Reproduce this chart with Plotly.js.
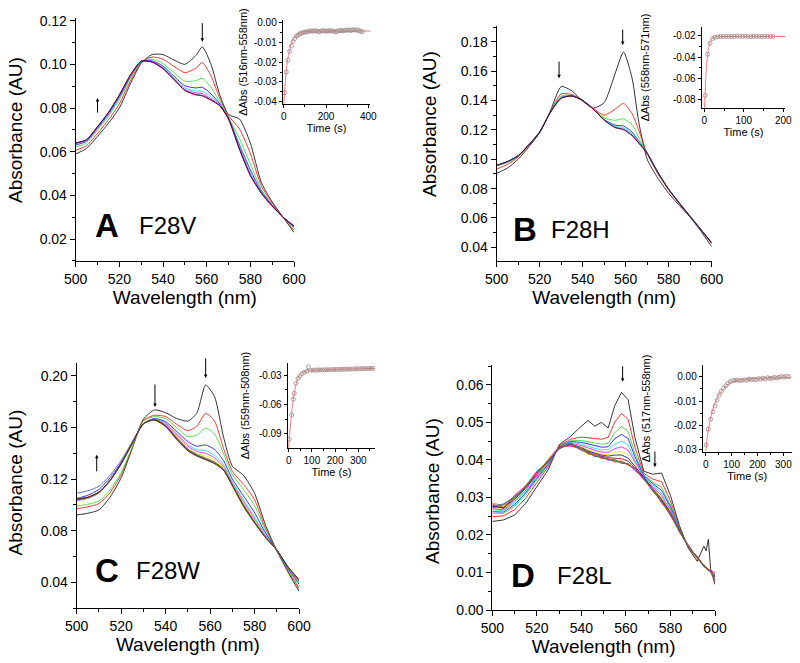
<!DOCTYPE html>
<html><head><meta charset="utf-8">
<script src="https://cdn.plot.ly/plotly-3.0.1.min.js"></script>
<style>html,body{margin:0;padding:0;background:#fff}#chart{width:800px;height:663px}</style>
</head><body><div id="chart"></div>
<script>
// ---------- Panel A (F28V) ----------
const wlA = [500,505,510,515,520,525,530,535,540,545,550,555,558,562,566,570,575,580,585,590,595,600];
const A_black   = [0.0590,0.0615,0.0670,0.0730,0.0800,0.0910,0.1005,0.1045,0.1045,0.1020,0.1000,0.1040,0.1080,0.1000,0.0860,0.0770,0.0750,0.0640,0.0460,0.0370,0.0300,0.0230];
const A_red     = [0.0606,0.0628,0.0684,0.0746,0.0819,0.0923,0.1008,0.1034,0.1024,0.0991,0.0962,0.0982,0.1008,0.0947,0.0844,0.0764,0.0705,0.0592,0.0444,0.0364,0.0300,0.0240];
const A_green   = [0.0622,0.0641,0.0699,0.0762,0.0838,0.0936,0.1011,0.1023,0.1003,0.0962,0.0923,0.0925,0.0936,0.0894,0.0828,0.0757,0.0660,0.0544,0.0428,0.0357,0.0300,0.0249];
const A_blue    = [0.0631,0.0648,0.0707,0.0771,0.0849,0.0943,0.1013,0.1016,0.0992,0.0946,0.0902,0.0892,0.0895,0.0865,0.0819,0.0754,0.0632,0.0517,0.0419,0.0354,0.0300,0.0255];
const A_cyan    = [0.0635,0.0651,0.0711,0.0775,0.0854,0.0946,0.1014,0.1013,0.0986,0.0939,0.0892,0.0878,0.0877,0.0852,0.0815,0.0752,0.0624,0.0505,0.0415,0.0353,0.0300,0.0257];
const A_magenta = [0.0638,0.0653,0.0713,0.0778,0.0857,0.0948,0.1015,0.1012,0.0983,0.0935,0.0886,0.0869,0.0866,0.0843,0.0812,0.0751,0.0617,0.0497,0.0413,0.0352,0.0300,0.0259];
const A_navy    = [0.0640,0.0655,0.0714,0.0779,0.0859,0.0950,0.1015,0.1011,0.0981,0.0931,0.0881,0.0862,0.0858,0.0838,0.0811,0.0750,0.0613,0.0492,0.0411,0.0351,0.0300,0.0260];
const A_wine    = [0.0640,0.0655,0.0715,0.0780,0.0860,0.0950,0.1015,0.1010,0.0980,0.0930,0.0880,0.0860,0.0855,0.0835,0.0810,0.0750,0.0610,0.0490,0.0410,0.0350,0.0300,0.0260];

// ---------- Panel B (F28H) ----------
const wlB = [500,505,510,515,520,525,530,535,540,545,550,555,559,563,566,570,575,580,585,590,595,600];
const B_black = [0.0904,0.0940,0.1000,0.1085,0.1180,0.1330,0.1495,0.1465,0.1395,0.1348,0.1385,0.1580,0.1730,0.1550,0.1260,0.1000,0.0870,0.0768,0.0685,0.0605,0.0510,0.0405];
const B_red   = [0.0933,0.0965,0.1015,0.1095,0.1183,0.1325,0.1445,0.1440,0.1400,0.1345,0.1300,0.1340,0.1380,0.1310,0.1200,0.1040,0.0900,0.0790,0.0697,0.0608,0.0518,0.0425];
const B_green = [0.0954,0.0978,0.1020,0.1098,0.1184,0.1322,0.1430,0.1435,0.1400,0.1342,0.1280,0.1265,0.1275,0.1235,0.1150,0.1040,0.0905,0.0793,0.0699,0.0609,0.0519,0.0428];
const B_blue  = [0.0957,0.0982,0.1023,0.1099,0.1185,0.1321,0.1420,0.1432,0.1400,0.1341,0.1270,0.1232,0.1226,0.1185,0.1125,0.1040,0.0908,0.0796,0.0702,0.0612,0.0522,0.0432];
const B_cyan  = [0.0958,0.0983,0.1024,0.1099,0.1185,0.1321,0.1418,0.1431,0.1400,0.1341,0.1268,0.1225,0.1213,0.1173,0.1118,0.1040,0.0909,0.0796,0.0701,0.0611,0.0521,0.0431];
const B_navy  = [0.0959,0.0984,0.1024,0.1100,0.1185,0.1320,0.1416,0.1430,0.1400,0.1340,0.1266,0.1218,0.1204,0.1164,0.1112,0.1040,0.0910,0.0795,0.0700,0.0610,0.0520,0.0430];
const B_wine  = [0.0960,0.0985,0.1025,0.1100,0.1185,0.1320,0.1415,0.1430,0.1400,0.1340,0.1265,0.1215,0.1200,0.1160,0.1110,0.1040,0.0910,0.0795,0.0700,0.0610,0.0520,0.0430];

// ---------- Panel C (F28W) ----------
const wlC = [500,505,510,515,520,525,530,535,540,545,550,554,558,562,566,570,575,580,585,590,595,600];
const C_black   = [0.0922,0.0935,0.0961,0.1060,0.1210,0.1440,0.1665,0.1737,0.1715,0.1670,0.1650,0.1710,0.1930,0.1840,0.1530,0.1300,0.1230,0.1090,0.0840,0.0645,0.0480,0.0330];
const C_red     = [0.0970,0.0985,0.1010,0.1095,0.1235,0.1445,0.1655,0.1695,0.1685,0.1625,0.1575,0.1610,0.1710,0.1650,0.1440,0.1260,0.1160,0.1040,0.0815,0.0645,0.0490,0.0350];
const C_green   = [0.0990,0.1005,0.1030,0.1115,0.1250,0.1450,0.1650,0.1685,0.1670,0.1600,0.1530,0.1540,0.1595,0.1550,0.1400,0.1235,0.1120,0.0995,0.0800,0.0645,0.0495,0.0365];
const C_blue    = [0.1050,0.1075,0.1120,0.1210,0.1330,0.1480,0.1630,0.1670,0.1645,0.1570,0.1490,0.1455,0.1465,0.1430,0.1345,0.1200,0.1070,0.0940,0.0780,0.0648,0.0505,0.0385];
const C_cyan    = [0.1030,0.1050,0.1090,0.1185,0.1315,0.1475,0.1630,0.1668,0.1635,0.1555,0.1465,0.1430,0.1420,0.1385,0.1315,0.1180,0.1040,0.0905,0.0765,0.0648,0.0510,0.0395];
const C_magenta = [0.1035,0.1052,0.1092,0.1186,0.1316,0.1476,0.1630,0.1666,0.1628,0.1545,0.1455,0.1415,0.1400,0.1365,0.1300,0.1170,0.1025,0.0890,0.0758,0.0649,0.0513,0.0400];
const C_yellow  = [0.1040,0.1055,0.1095,0.1188,0.1318,0.1478,0.1631,0.1664,0.1622,0.1535,0.1445,0.1400,0.1380,0.1350,0.1290,0.1162,0.1012,0.0878,0.0752,0.0650,0.0516,0.0405];
const C_olive   = [0.1042,0.1057,0.1097,0.1189,0.1319,0.1479,0.1630,0.1662,0.1617,0.1525,0.1435,0.1392,0.1365,0.1335,0.1280,0.1157,0.1003,0.0870,0.0749,0.0650,0.0518,0.0410];
const C_navy    = [0.1044,0.1058,0.1098,0.1190,0.1320,0.1480,0.1630,0.1661,0.1613,0.1517,0.1428,0.1386,0.1357,0.1327,0.1275,0.1153,0.0996,0.0865,0.0747,0.0650,0.0519,0.0415];
const C_royal   = [0.1090,0.1110,0.1145,0.1230,0.1345,0.1490,0.1630,0.1658,0.1605,0.1505,0.1420,0.1380,0.1352,0.1322,0.1272,0.1150,0.0993,0.0862,0.0746,0.0650,0.0520,0.0418];
const C_orange  = [0.1046,0.1061,0.1100,0.1190,0.1321,0.1481,0.1629,0.1659,0.1609,0.1509,0.1421,0.1381,0.1352,0.1322,0.1271,0.1151,0.0991,0.0861,0.0745,0.0650,0.0520,0.0419];
const C_final   = [0.1045,0.1060,0.1100,0.1190,0.1320,0.1480,0.1630,0.1660,0.1610,0.1510,0.1420,0.1380,0.1350,0.1320,0.1270,0.1150,0.0990,0.0860,0.0745,0.0650,0.0520,0.0420];

// ---------- Panel D (F28L) ----------
const wlD = [500,505,510,515,520,525,530,535,540,543,546,549,552,555,558,561,564,568,572,576,580,584,588,592,595,596,597,598,600];
const D_black    = [0.0236,0.0240,0.0253,0.0284,0.0329,0.0373,0.0440,0.0462,0.0490,0.0505,0.0490,0.0500,0.0485,0.0545,0.0580,0.0560,0.0460,0.0370,0.0362,0.0365,0.0305,0.0225,0.0165,0.0130,0.0170,0.0158,0.0188,0.0110,0.0068];
const D_red      = [0.0249,0.0251,0.0267,0.0298,0.0340,0.0381,0.0438,0.0455,0.0461,0.0460,0.0457,0.0455,0.0460,0.0501,0.0524,0.0508,0.0434,0.0364,0.0349,0.0342,0.0290,0.0220,0.0167,0.0137,0.0116,0.0111,0.0106,0.0101,0.0077];
const D_green    = [0.0258,0.0257,0.0276,0.0307,0.0347,0.0385,0.0436,0.0451,0.0452,0.0449,0.0445,0.0442,0.0444,0.0473,0.0489,0.0476,0.0418,0.0360,0.0341,0.0327,0.0280,0.0218,0.0167,0.0137,0.0116,0.0111,0.0106,0.0101,0.0081];
const D_blue     = [0.0262,0.0261,0.0281,0.0312,0.0351,0.0388,0.0435,0.0449,0.0447,0.0442,0.0438,0.0434,0.0435,0.0457,0.0468,0.0457,0.0409,0.0358,0.0337,0.0319,0.0275,0.0216,0.0168,0.0138,0.0117,0.0111,0.0107,0.0102,0.0083];
const D_cyan     = [0.0267,0.0265,0.0286,0.0316,0.0354,0.0391,0.0434,0.0447,0.0442,0.0436,0.0431,0.0427,0.0427,0.0442,0.0450,0.0440,0.0400,0.0356,0.0333,0.0311,0.0270,0.0215,0.0169,0.0139,0.0117,0.0111,0.0107,0.0102,0.0085];
const D_magenta  = [0.0270,0.0267,0.0290,0.0320,0.0357,0.0393,0.0434,0.0445,0.0438,0.0431,0.0426,0.0421,0.0420,0.0430,0.0435,0.0426,0.0394,0.0354,0.0329,0.0305,0.0266,0.0213,0.0169,0.0139,0.0117,0.0112,0.0107,0.0102,0.0086];
const D_yellow   = [0.0273,0.0270,0.0293,0.0323,0.0360,0.0394,0.0433,0.0443,0.0435,0.0427,0.0422,0.0416,0.0414,0.0420,0.0422,0.0414,0.0388,0.0353,0.0326,0.0300,0.0262,0.0212,0.0169,0.0139,0.0118,0.0112,0.0108,0.0103,0.0087];
const D_navy     = [0.0276,0.0272,0.0295,0.0325,0.0361,0.0396,0.0433,0.0442,0.0433,0.0424,0.0418,0.0413,0.0410,0.0413,0.0413,0.0405,0.0383,0.0352,0.0324,0.0296,0.0260,0.0211,0.0170,0.0140,0.0118,0.0112,0.0108,0.0103,0.0088];
const D_wine     = [0.0278,0.0273,0.0298,0.0328,0.0363,0.0397,0.0432,0.0441,0.0430,0.0421,0.0415,0.0410,0.0406,0.0405,0.0403,0.0397,0.0379,0.0351,0.0322,0.0292,0.0258,0.0211,0.0170,0.0140,0.0118,0.0112,0.0108,0.0103,0.0089];
const D_orange   = [0.0285,0.0279,0.0297,0.0333,0.0362,0.0401,0.0436,0.0438,0.0432,0.0415,0.0417,0.0403,0.0408,0.0396,0.0398,0.0385,0.0378,0.0347,0.0323,0.0285,0.0258,0.0207,0.0173,0.0137,0.0121,0.0110,0.0111,0.0100,0.0093];
const D_violet   = [0.0272,0.0281,0.0303,0.0327,0.0368,0.0395,0.0429,0.0443,0.0425,0.0421,0.0409,0.0409,0.0399,0.0401,0.0391,0.0390,0.0372,0.0353,0.0317,0.0290,0.0251,0.0213,0.0167,0.0143,0.0115,0.0114,0.0105,0.0106,0.0095];
const D_pink     = [0.0283,0.0270,0.0306,0.0331,0.0370,0.0396,0.0435,0.0437,0.0430,0.0416,0.0414,0.0404,0.0404,0.0394,0.0396,0.0386,0.0378,0.0348,0.0322,0.0286,0.0257,0.0208,0.0172,0.0139,0.0120,0.0113,0.0107,0.0104,0.0100];
const D_darkcyan = [0.0277,0.0283,0.0299,0.0326,0.0366,0.0399,0.0430,0.0444,0.0427,0.0419,0.0410,0.0407,0.0401,0.0399,0.0392,0.0391,0.0373,0.0349,0.0318,0.0289,0.0253,0.0212,0.0169,0.0141,0.0117,0.0113,0.0109,0.0101,0.0092];
const D_final    = [0.0280,0.0275,0.0300,0.0330,0.0365,0.0398,0.0432,0.0440,0.0428,0.0418,0.0412,0.0406,0.0402,0.0398,0.0394,0.0388,0.0375,0.0350,0.0320,0.0288,0.0255,0.0210,0.0170,0.0140,0.0118,0.0112,0.0108,0.0103,0.0090];

// ---------- Insets (kinetics) ----------
const tA   = [4,12,20,28,36,44,52,60,68,76,84,92,100,108,116,124,132,140,148,156,164,172,180,188,196,204,212,220,228,236,244,252,260,268,276,284,292,300,308,316,324,332,340,348,356,364,372];
const dA   = [-0.0354,-0.0250,-0.0190,-0.0145,-0.0118,-0.0095,-0.0080,-0.0068,-0.0062,-0.0056,-0.0052,-0.0050,-0.0048,-0.0046,-0.0045,-0.0042,-0.0041,-0.0043,-0.0040,-0.0042,-0.0045,-0.0044,-0.0041,-0.0040,-0.0042,-0.0043,-0.0041,-0.0042,-0.0040,-0.0044,-0.0046,-0.0043,-0.0040,-0.0039,-0.0041,-0.0040,-0.0037,-0.0038,-0.0036,-0.0039,-0.0037,-0.0035,-0.0038,-0.0036,-0.0040,-0.0043,-0.0046];
const fitTA = [1,4,8,12,16,20,25,30,35,40,50,60,70,80,100,130,160,200,300,410];
const fitVA = [-0.0410,-0.0350,-0.0292,-0.0247,-0.0210,-0.0180,-0.0150,-0.0126,-0.0108,-0.0094,-0.0075,-0.0063,-0.0056,-0.0051,-0.0046,-0.0043,-0.0042,-0.0042,-0.0042,-0.0042];

const tB   = [2,8.5,14.5,21,27,34,41,48,55,62,69,76,83,90,97,104,111,118,125,132,139,146,153,160,167,174];
const dB   = [-0.0760,-0.0372,-0.0269,-0.0225,-0.0212,-0.0207,-0.0205,-0.0206,-0.0205,-0.0204,-0.0206,-0.0204,-0.0201,-0.0203,-0.0205,-0.0201,-0.0205,-0.0206,-0.0203,-0.0205,-0.0204,-0.0206,-0.0203,-0.0205,-0.0205,-0.0206];
const fitTB = [0,2,4,6,8,10,12,15,18,22,26,30,40,60,100,150,205];
const fitVB = [-0.0950,-0.0750,-0.0580,-0.0470,-0.0390,-0.0330,-0.0290,-0.0255,-0.0232,-0.0218,-0.0211,-0.0207,-0.0205,-0.0205,-0.0205,-0.0205,-0.0205];

const tC   = [2.6,13,20,24,31,41,48,58,68,78,84.5,95,105,115,125,135,145,155,165,175,185,195,205,215,225,235,245,255,265,275,285,295,305,315,325,335,345,355,365];
const dC   = [-0.0954,-0.0707,-0.0547,-0.0486,-0.0385,-0.0334,-0.0310,-0.0285,-0.0272,-0.0262,-0.0216,-0.0252,-0.0250,-0.0251,-0.0249,-0.0248,-0.0248,-0.0247,-0.0246,-0.0246,-0.0245,-0.0244,-0.0244,-0.0243,-0.0242,-0.0242,-0.0241,-0.0240,-0.0240,-0.0239,-0.0238,-0.0237,-0.0237,-0.0236,-0.0235,-0.0234,-0.0234,-0.0233,-0.0232];
const fitTC = [0,2.6,5,10,15,20,25,30,40,50,60,80,100,150,200,250,300,372];
const fitVC = [-0.1040,-0.0950,-0.0880,-0.0760,-0.0640,-0.0545,-0.0470,-0.0410,-0.0335,-0.0295,-0.0275,-0.0258,-0.0252,-0.0247,-0.0244,-0.0240,-0.0237,-0.0232];

const tD   = [2,10,19,28,36,44,52,60,69,78,86,95,104,113,122,131,140,149,158,167,176,185,194,203,212,221,230,239,248,257,266,275,284,293,302,311,320];
const dD   = [-0.0280,-0.0215,-0.0174,-0.0143,-0.0120,-0.0096,-0.0075,-0.0060,-0.0047,-0.0037,-0.0027,-0.0020,-0.0016,-0.0015,-0.0014,-0.0016,-0.0015,-0.0013,-0.0014,-0.0010,-0.0012,-0.0011,-0.0012,-0.0008,-0.0010,-0.0006,-0.0009,-0.0004,-0.0007,-0.0006,-0.0003,-0.0005,-0.0002,0.0001,-0.0002,0.0002,0.0000];
const fitTD = [0,5,10,15,20,30,40,50,60,70,80,90,100,120,150,200,250,300,332];
const fitVD = [-0.0305,-0.0255,-0.0218,-0.0188,-0.0163,-0.0125,-0.0097,-0.0076,-0.0060,-0.0047,-0.0037,-0.0029,-0.0023,-0.0016,-0.0011,-0.0007,-0.0005,-0.0004,-0.0004];

// ---------- Labels ----------
const panelLetters = ['A','B','C','D'];
const panelNames = ['F28V','F28H','F28W','F28L'];
const insetYTitles = ['ΔAbs (516nm-558nm)','ΔAbs (558nm-571nm)','ΔAbs (559nm-508nm)','ΔAbs (517nm-558nm)'];
const insetTickVals = [[-0.04,-0.03,-0.02,-0.01,0],[-0.08,-0.06,-0.04,-0.02],[-0.09,-0.06,-0.03],[-0.03,-0.02,-0.01,0]];
const insetTickText = [['-0.04','-0.03','-0.02','-0.01','0.00'],['-0.08','-0.06','-0.04','-0.02'],['-0.09','-0.06','-0.03'],['-0.03','-0.02','-0.01','0.00']];

// ---------- Build ----------
const FONT = 'Liberation Sans, Arial, Helvetica, sans-serif';
const COL = {black:'#000000',red:'#ff0000',green:'#22dd22',blue:'#0000ff',cyan:'#00e0f0',magenta:'#ff00ff',yellow:'#e8e800',olive:'#808000',navy:'#000080',royal:'#3050d0',orange:'#ff8000',wine:'#800000',violet:'#8000ff',pink:'#ff0080',darkcyan:'#008080',dark:'#222222'};

const traces = [];
function addSpectra(wl, list, xa, ya, shape) {
  list.forEach(([arr, c]) => traces.push({x: wl, y: arr, xaxis: xa, yaxis: ya, type: 'scatter', mode: 'lines',
    line: {color: COL[c], width: 0.8, shape: shape, smoothing: 0.6}, hoverinfo: 'skip'}));
}
addSpectra(wlA, [[A_black,'black'],[A_red,'red'],[A_green,'green'],[A_blue,'blue'],[A_cyan,'cyan'],[A_magenta,'magenta'],[A_navy,'navy'],[A_wine,'wine']], 'x', 'y', 'spline');
addSpectra(wlB, [[B_black,'black'],[B_red,'red'],[B_green,'green'],[B_blue,'blue'],[B_cyan,'cyan'],[B_navy,'navy'],[B_wine,'wine']], 'x2', 'y2', 'spline');
addSpectra(wlC, [[C_black,'black'],[C_red,'red'],[C_green,'green'],[C_blue,'blue'],[C_cyan,'cyan'],[C_magenta,'magenta'],[C_yellow,'yellow'],[C_olive,'olive'],[C_navy,'navy'],[C_royal,'royal'],[C_orange,'orange'],[C_final,'dark']], 'x3', 'y3', 'spline');
addSpectra(wlD, [[D_black,'black'],[D_red,'red'],[D_green,'green'],[D_blue,'blue'],[D_cyan,'cyan'],[D_magenta,'magenta'],[D_yellow,'yellow'],[D_navy,'navy'],[D_wine,'wine'],[D_orange,'orange'],[D_violet,'violet'],[D_pink,'pink'],[D_darkcyan,'darkcyan'],[D_final,'olive']], 'x4', 'y4', 'linear');

function addInset(t, d, ft, fv, xa, ya) {
  traces.push({x: ft, y: fv, xaxis: xa, yaxis: ya, type: 'scatter', mode: 'lines', line: {color: '#f07878', width: 1, shape: 'spline', smoothing: 0.5}, hoverinfo: 'skip'});
  traces.push({x: t, y: d, xaxis: xa, yaxis: ya, type: 'scatter', mode: 'markers',
    marker: {symbol: 'circle-open', size: 4, color: '#a08888', line: {width: 0.8}}, hoverinfo: 'skip'});
}
addInset(tA, dA, fitTA, fitVA, 'x5', 'y5');
addInset(tB, dB, fitTB, fitVB, 'x6', 'y6');
addInset(tC, dC, fitTC, fitVC, 'x7', 'y7');
addInset(tD, dD, fitTD, fitVD, 'x8', 'y8');

function mainX(domain, anchor) {
  return {domain: domain, range: [500, 600], anchor: anchor, showline: true, linecolor: '#000', linewidth: 1,
    ticks: 'outside', ticklen: 5, tickwidth: 1, tickcolor: '#000', tick0: 0, dtick: 20,
    minor: {dtick: 10, tick0: 0, ticks: 'outside', ticklen: 3, tickcolor: '#000'},
    showgrid: false, zeroline: false, tickfont: {size: 14, color: '#000', family: FONT},
    title: {text: 'Wavelength (nm)', font: {size: 19, color: '#000', family: FONT}, standoff: 1}, fixedrange: true};
}
function mainY(domain, anchor, range, dtick) {
  return {domain: domain, range: range, anchor: anchor, showline: true, linecolor: '#000', linewidth: 1,
    ticks: 'outside', ticklen: 5, tickwidth: 1, tickcolor: '#000', tick0: 0, dtick: dtick, tickformat: '.2f',
    minor: {dtick: dtick / 2, tick0: 0, ticks: 'outside', ticklen: 3, tickcolor: '#000'},
    showgrid: false, zeroline: false, tickfont: {size: 14, color: '#000', family: FONT}, fixedrange: true};
}
function insetX(domain, anchor, range, dtick) {
  return {domain: domain, range: range, anchor: anchor, showline: true, linecolor: '#000', linewidth: 1,
    ticks: 'outside', ticklen: 3, tickcolor: '#000', tick0: 0, dtick: dtick,
    minor: {dtick: dtick / 2, tick0: 0, ticks: 'outside', ticklen: 2, tickcolor: '#000'},
    showgrid: false, zeroline: false, tickfont: {size: 10, color: '#000', family: FONT},
    title: {text: 'Time (s)', font: {size: 11, color: '#000', family: FONT}, standoff: 2}, fixedrange: true};
}
function insetY(domain, anchor, range, i, standoff, minorD) {
  return {domain: domain, range: range, anchor: anchor, showline: true, linecolor: '#000', linewidth: 1,
    ticks: 'outside', ticklen: 3, tickcolor: '#000', tickmode: 'array', tickvals: insetTickVals[i], ticktext: insetTickText[i],
    minor: {dtick: minorD, tick0: 0, ticks: 'outside', ticklen: 2, tickcolor: '#000'},
    showgrid: false, zeroline: false, tickfont: {size: 10, color: '#000', family: FONT},
    title: {text: insetYTitles[i], font: {size: 11, color: '#000', family: FONT}, standoff: standoff}, fixedrange: true};
}

const layout = {
  width: 800, height: 663, margin: {l: 0, r: 0, t: 0, b: 0}, showlegend: false,
  paper_bgcolor: '#fff', plot_bgcolor: 'rgba(0,0,0,0)', font: {family: FONT, color: '#000'},
  xaxis:  mainX([0.0946, 0.3675], 'y'),
  yaxis:  mainY([0.6063, 0.9724], 'x', [0.00992, 0.1211], 0.02),
  xaxis2: mainX([0.6209, 0.8896], 'y2'),
  yaxis2: mainY([0.6063, 0.9608], 'x2', [0.0307, 0.1907], 0.02),
  xaxis3: mainX([0.0959, 0.3738], 'y3'),
  yaxis3: mainY([0.0825, 0.4520], 'x3', [0.0198, 0.2098], 0.04),
  xaxis4: mainX([0.6154, 0.8938], 'y4'),
  yaxis4: mainY([0.0799, 0.4495], 'x4', [0.0, 0.0653], 0.01),
  xaxis5: insetX([0.3534, 0.4630], 'y5', [-4.7, 410], 200),
  yaxis5: insetY([0.8431, 0.9698], 'x5', [-0.0412, 0.0014], 0, 4, 0.005),
  xaxis6: insetX([0.8771, 0.9816], 'y6', [-6.6, 205], 100),
  yaxis6: insetY([0.8367, 0.9597], 'x6', [-0.088, -0.0113], 1, 21, 0.01),
  xaxis7: insetX([0.3596, 0.4688], 'y7', [-4.3, 372], 100),
  yaxis7: insetY([0.3238, 0.4529], 'x7', [-0.1046, -0.0175], 2, 7, 0.015),
  xaxis8: insetX([0.8784, 0.9896], 'y8', [-11.6, 332], 100),
  yaxis8: insetY([0.3187, 0.4495], 'x8', [-0.0307, 0.0048], 3, 21, 0.005),
  annotations: []
};

// main y-axis titles
const yTitlePos = [[0.01875, 0.8039], [0.5375, 0.8130], [0.0194, 0.2715], [0.5400, 0.2594]];
yTitlePos.forEach(p => layout.annotations.push({xref: 'paper', yref: 'paper', x: p[0], y: p[1], text: 'Absorbance (AU)',
  textangle: -90, showarrow: false, xanchor: 'center', yanchor: 'middle', font: {size: 19, color: '#000', family: FONT}}));

// panel letters and names
const letterPos = [[0.13375, 0.6606], [0.65625, 0.6546], [0.13375, 0.1388], [0.65375, 0.1327]];
const namePos = [[0.20875, 0.6606], [0.7250, 0.6531], [0.2100, 0.1388], [0.7300, 0.1327]];
panelLetters.forEach((L, i) => {
  layout.annotations.push({xref: 'paper', yref: 'paper', x: letterPos[i][0], y: letterPos[i][1], text: '<b>' + L + '</b>',
    showarrow: false, xanchor: 'center', yanchor: 'middle', font: {size: 33, color: '#000', family: FONT}});
  layout.annotations.push({xref: 'paper', yref: 'paper', x: namePos[i][0], y: namePos[i][1], text: panelNames[i],
    showarrow: false, xanchor: 'center', yanchor: 'middle', font: {size: 24, color: '#000', family: FONT}});
});

// arrows marking spectral changes
const arrows = [
  ['x', 'y', 558, 0.1104, -20], ['x', 'y', 510, 0.0846, 16],
  ['x2', 'y2', 529, 0.1552, -18], ['x2', 'y2', 558.6, 0.1777, -17],
  ['x3', 'y3', 535.2, 0.1760, -24], ['x3', 'y3', 558, 0.1985, -21], ['x3', 'y3', 509, 0.1388, 18],
  ['x4', 'y4', 558.5, 0.0608, -17], ['x4', 'y4', 573, 0.0381, -17]
];
arrows.forEach(a => layout.annotations.push({xref: a[0], yref: a[1], x: a[2], y: a[3], ax: 0, ay: a[4], axref: 'pixel', ayref: 'pixel',
  text: '', showarrow: true, arrowhead: 2, arrowsize: 0.7, arrowwidth: 1, arrowcolor: '#000'}));

Plotly.newPlot('chart', traces, layout, {staticPlot: true, displayModeBar: false});
</script></body></html>
